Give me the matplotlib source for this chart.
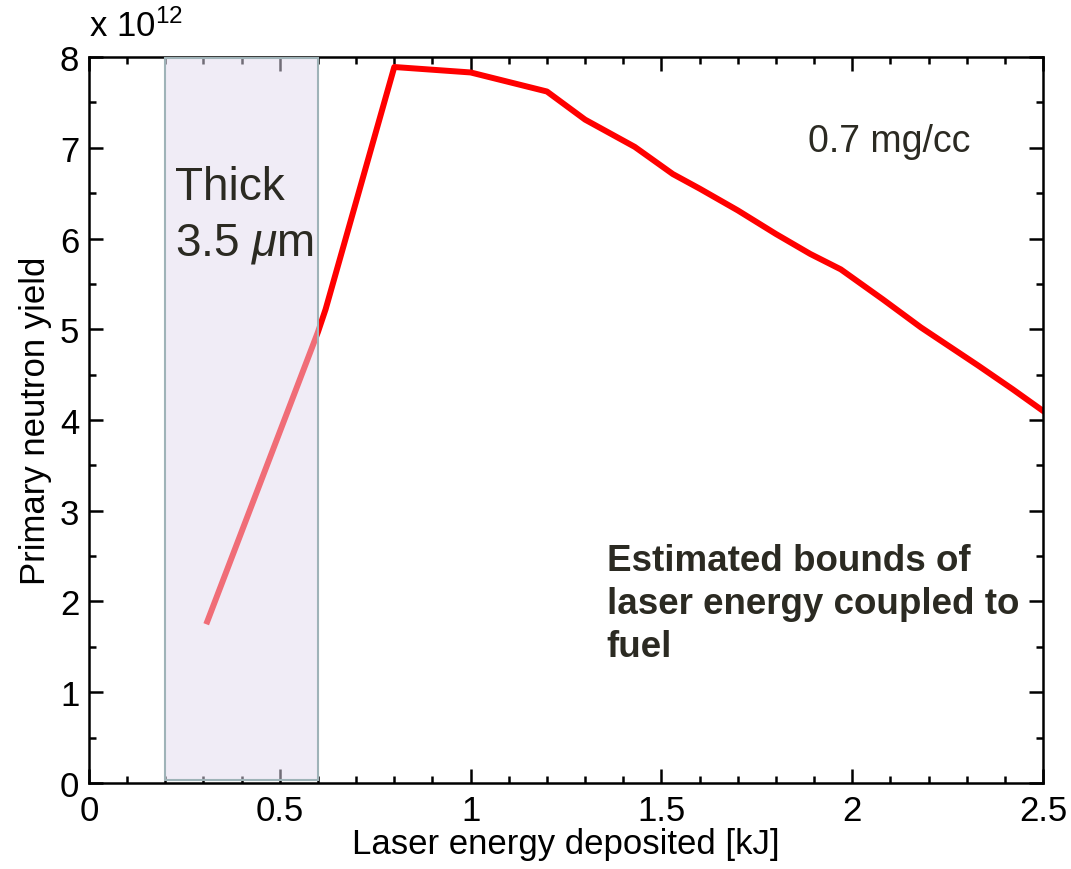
import matplotlib.pyplot as plt
import numpy as np

# data
energy = [0.31, 0.60, 0.62, 0.80, 1.00, 1.20, 1.30, 1.43, 1.53, 1.60, 1.70,
          1.80, 1.89, 1.97, 2.08, 2.18, 2.33, 2.42, 2.50]
yield_e12 = [1.78, 4.97, 5.22, 7.89, 7.83, 7.62, 7.31, 7.01, 6.71, 6.55, 6.31,
             6.05, 5.83, 5.66, 5.33, 5.02, 4.60, 4.34, 4.10]
bounds = (0.2, 0.6)

plt.rcParams['font.family'] = ['Liberation Sans', 'DejaVu Sans']
plt.rcParams['mathtext.fontset'] = 'custom'
plt.rcParams['mathtext.rm'] = 'Liberation Sans'
plt.rcParams['mathtext.it'] = 'Liberation Sans:italic'

fig = plt.figure(figsize=(10.71, 8.7), dpi=100)
ax = fig.add_axes([0.0831, 0.0989, 0.8908, 0.8344])

ax.plot(energy, yield_e12, color='#ff0000', lw=4.3, solid_joinstyle='round', zorder=2)

# shaded bounds box sits on top of the line
ax.axvspan(bounds[0], bounds[1], ymin=0.004, ymax=0.998,
           facecolor=(0.886, 0.855, 0.933, 0.5), edgecolor='#9fb3b8', lw=1.5, zorder=3)

ax.set_xlim(0, 2.5)
ax.set_ylim(0, 8)
ax.set_xticks([0, 0.5, 1, 1.5, 2, 2.5])
ax.set_xticklabels(['0', '0.5', '1', '1.5', '2', '2.5'])
ax.set_yticks(range(9))
ax.set_xticks(np.arange(0, 2.51, 0.1), minor=True)
ax.set_yticks(np.arange(0, 8.01, 0.5), minor=True)

ax.tick_params(which='both', direction='in', top=True, right=True, width=1.8, labelsize=25)
ax.tick_params(which='major', length=10)
ax.tick_params(which='minor', length=5)
ax.tick_params(axis='x', pad=8)
ax.tick_params(axis='y', pad=7)
for s in ax.spines.values():
    s.set_linewidth(1.8)

ax.set_xlabel('Laser energy deposited [kJ]', fontsize=25, labelpad=0)
ax.set_ylabel('Primary neutron yield', fontsize=25, labelpad=6)

ax.text(0.0, 1.02, r'x $\mathregular{10^{12}}$', transform=ax.transAxes,
        fontsize=25, ha='left', va='bottom')

txt = '#2b2a22'
ax.text(0.225, 6.44, 'Thick', fontsize=33, color=txt, va='baseline', zorder=4)
ax.text(0.225, 5.82, r'3.5 $\mu$m', fontsize=33, color=txt, va='baseline', zorder=4)
ax.text(1.884, 6.96, '0.7 mg/cc', fontsize=27, color=txt, va='baseline')
ax.text(1.357, 1.40, 'Estimated bounds of\nlaser energy coupled to\nfuel', fontsize=26.5,
        fontweight='bold', color=txt, va='baseline', linespacing=1.3)

fig.savefig('out.png', dpi=100)
